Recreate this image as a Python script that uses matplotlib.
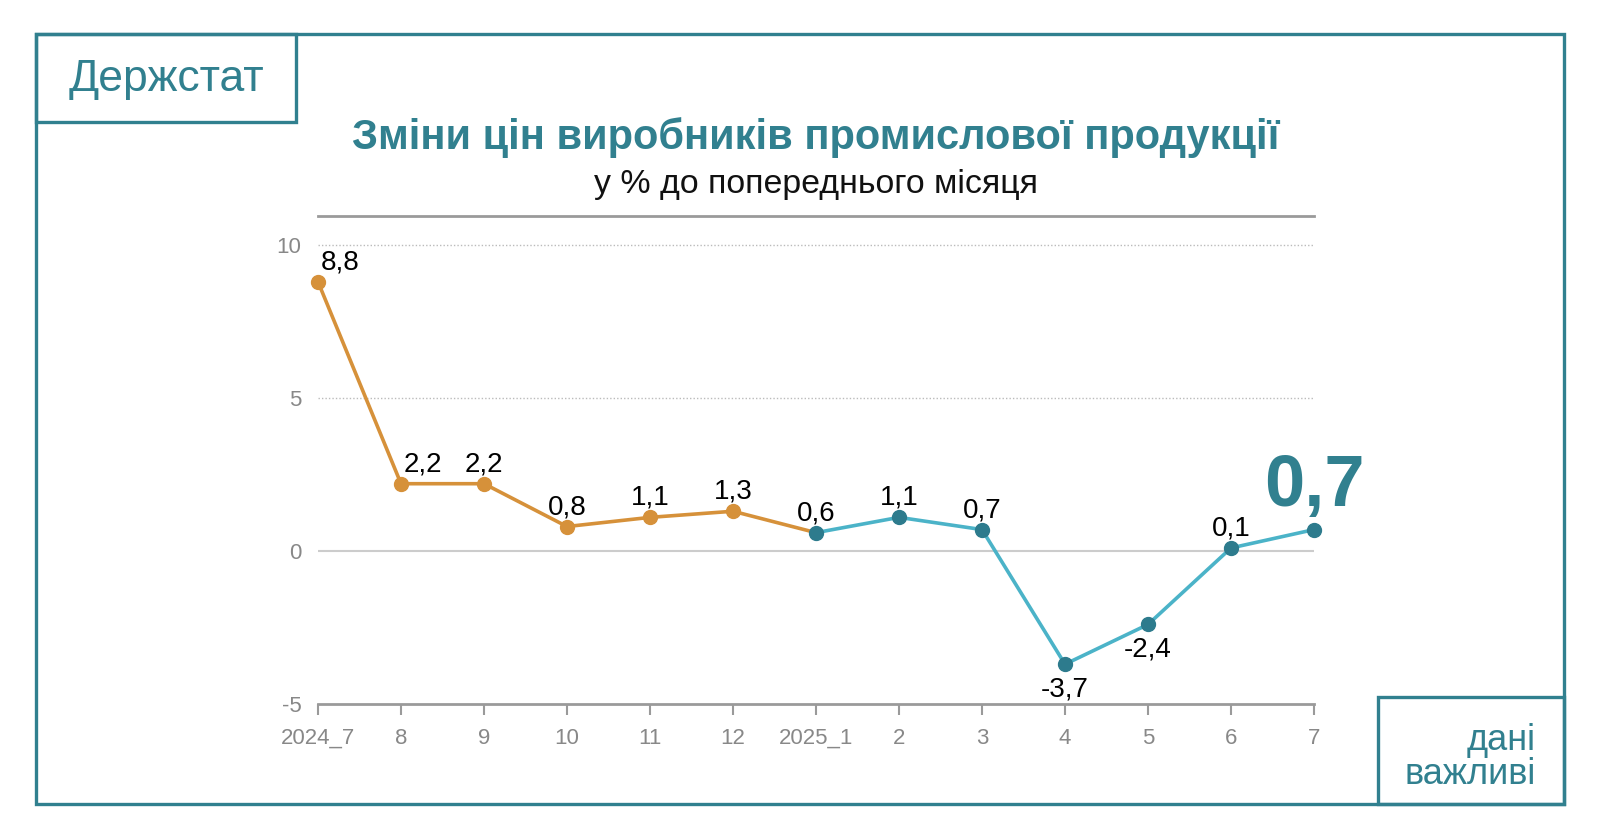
import matplotlib
matplotlib.use("Agg")
import matplotlib.pyplot as plt
from matplotlib.patches import Rectangle

plt.rcParams['font.family'] = ['Liberation Sans', 'DejaVu Sans']

# data: producer price change, % to previous month
months = ["2024_7", "8", "9", "10", "11", "12", "2025_1", "2", "3", "4", "5", "6", "7"]
values = [8.8, 2.2, 2.2, 0.8, 1.1, 1.3, 0.6, 1.1, 0.7, -3.7, -2.4, 0.1, 0.7]
split = 6  # index of 2025_1, where the colour changes

teal = "#31808f"
orange = "#d6913a"
light_teal = "#4bb3c8"
dark_teal = "#2d7b8d"
grey = "#9a9a9a"

W, H = 1600, 840
fig = plt.figure(figsize=(16, 8.4), dpi=100)

def fx(px):
    return px / W

def fy(py):
    return 1 - py / H

# frames
fig.patches.append(Rectangle((fx(36), fy(804)), fx(1564) - fx(36), fy(34) - fy(804),
                             transform=fig.transFigure, fill=False, ec=teal, lw=2.4))
fig.patches.append(Rectangle((fx(36), fy(122)), fx(296) - fx(36), fy(34) - fy(122),
                             transform=fig.transFigure, fill=False, ec=teal, lw=2.4))
fig.patches.append(Rectangle((fx(1378), fy(804)), fx(1564) - fx(1378), fy(697) - fy(804),
                             transform=fig.transFigure, fill=False, ec=teal, lw=2.4))

fig.text(fx(166), fy(79), "Держстат", color=teal, fontsize=32, ha="center", va="center")
fig.text(fx(1536), fy(740), "дані", color=teal, fontsize=26, ha="right", va="center")
fig.text(fx(1536), fy(774), "важливі", color=teal, fontsize=26, ha="right", va="center")

fig.text(fx(816), fy(138), "Зміни цін виробників промислової продукції", color=teal,
         fontsize=30, fontweight="bold", ha="center", va="center")
fig.text(fx(816), fy(184), "у % до попереднього місяця", color="#111111",
         fontsize=24.4, ha="center", va="center")

ax = fig.add_axes([fx(318), fy(704), fx(1314) - fx(318), fy(216) - fy(704)])
x = list(range(len(months)))
ax.set_xlim(0, len(months) - 1)
ax.set_ylim(-5, 10.95)

for yv in [5, 10]:
    ax.axhline(yv, color="#bbbbbb", lw=1, ls=(0, (1, 1.5)), zorder=1)
ax.axhline(0, color="#cccccc", lw=1.5, zorder=1)

ax.plot(x[:split + 1], values[:split + 1], color=orange, lw=2.6, zorder=2, clip_on=False)
ax.plot(x[split:], values[split:], color=light_teal, lw=2.6, zorder=2, clip_on=False)
ax.plot(x[:split], values[:split], "o", color=orange, ms=10, zorder=3, clip_on=False)
ax.plot(x[split:], values[split:], "o", color=dark_teal, ms=10, zorder=3, clip_on=False)

for i, v in enumerate(values):
    lab = f"{v:.1f}".replace(".", ",")
    if i == len(values) - 1:
        ax.annotate(lab, (i, v), xytext=(0, 31), textcoords="offset points",
                    ha="center", va="center", fontsize=52, fontweight="bold", color=teal)
    elif v < 0:
        ax.annotate(lab, (i, v), xytext=(0, -18), textcoords="offset points",
                    ha="center", va="center", fontsize=20)
    elif i < 2:
        ax.annotate(lab, (i, v), xytext=(2, 14), textcoords="offset points",
                    ha="left", va="center", fontsize=20)
    else:
        ax.annotate(lab, (i, v), xytext=(0, 14), textcoords="offset points",
                    ha="center", va="center", fontsize=20)

ax.set_xticks(x)
ax.set_xticklabels(months)
ax.set_yticks([-5, 0, 5, 10])
ax.set_yticklabels(["-5", "0", "5", "10"])
ax.tick_params(axis="x", colors=grey, labelcolor="#888888", labelsize=16, length=8, width=1.5, pad=9)
ax.tick_params(axis="y", length=0, labelcolor="#888888", labelsize=16, pad=12)

for s in ["left", "right"]:
    ax.spines[s].set_visible(False)
ax.spines["top"].set_color(grey)
ax.spines["top"].set_linewidth(2)
ax.spines["bottom"].set_color(grey)
ax.spines["bottom"].set_linewidth(2)

fig.savefig("out.png", dpi=100)
